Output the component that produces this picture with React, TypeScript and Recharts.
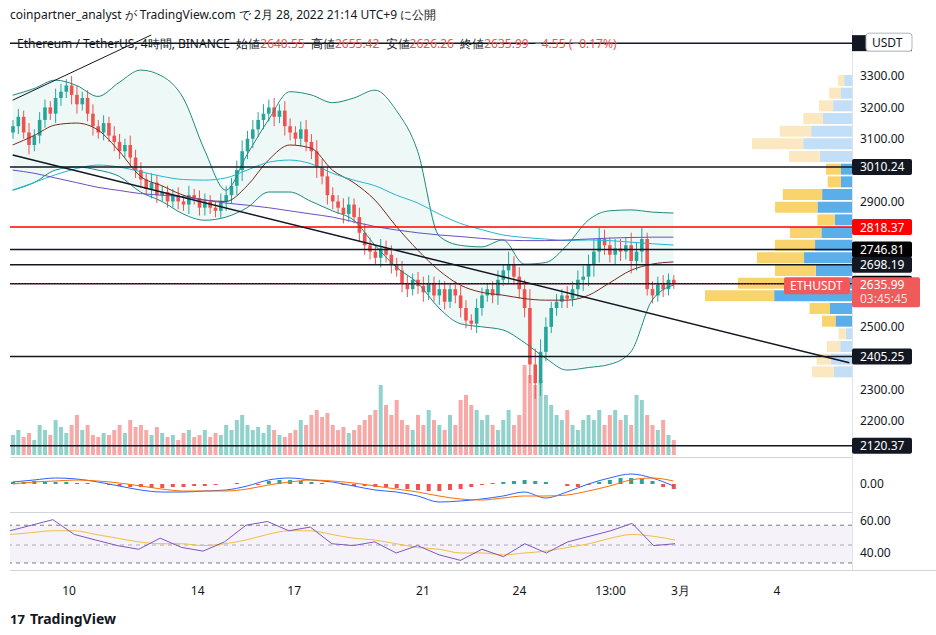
import React from "react";
import { ComposedChart, BarChart, Bar, Line, Area, XAxis, YAxis, ReferenceLine, ReferenceArea, Cell } from "recharts";

const closes = [
  3140,3170,3120,3080,3110,3160, 3200,3180,3230,3250,3270,3240, 3210,3230,3180,3140,3120,3150,
  3110,3090,3060,3080,3040,3000, 2970,2940,2960,2920,2930,2900, 2920,2900,2890,2920,2910,2880,
  2900,2880,2870,2900,2920,2950, 3000,3060,3100,3130,3160,3180, 3200,3170,3190,3140,3120,3100,
  3130,3090,3060,3010,2980,2920, 2900,2880,2860,2890,2850,2800, 2760,2740,2720,2750,2730,2700,
  2680,2640,2620,2650,2630,2610, 2640,2600,2620,2580,2620,2600, 2560,2520,2510,2560,2600,2620,
  2600,2650,2680,2700,2660,2620, 2560,2380,2320,2420,2500,2560, 2580,2600,2590,2620,2650,2660,
  2700,2740,2780,2760,2730,2750, 2740,2760,2710,2740,2780,2620, 2600,2640,2620,2650,2636,
];
const wicks = [
  20,25,20,30,20,25, 25,20,30,25,20,30, 30,20,25,30,20,25, 20,30,25,20,30,25, 25,20,30,25,20,20,
  20,25,20,30,20,25, 25,20,20,25,30,25, 30,35,25,30,25,30, 25,30,20,30,25,20, 25,30,25,35,25,30,
  25,20,30,25,20,30, 30,25,20,30,25,30, 20,30,25,20,25,30, 25,20,30,25,20,25, 30,25,20,30,25,20,
  25,30,20,40,25,30, 30,60,50,40,30,20, 25,20,30,25,30,35, 30,40,35,30,25,30, 30,25,40,30,35,20,
  25,20,25,20,15,
];
const volumes = [
  20,25,18,22,15,30, 25,20,35,28,22,30, 40,25,30,20,18,22, 20,25,30,22,35,28, 30,25,20,28,22,18,
  20,15,22,25,18,20, 25,18,22,20,30,25, 35,40,30,25,28,22, 30,25,20,18,22,25, 35,30,40,45,38,42,
  30,25,28,22,25,30, 35,40,45,70,50,40, 55,35,30,25,40,30, 45,35,30,25,40,30, 55,60,50,45,35,40,
  30,25,35,45,30,40, 90,80,70,75,60,50, 40,35,45,30,25,35, 40,35,45,30,40,45, 35,40,30,60,55,40,
  30,25,35,20,15,
];
// every 4th candle
const bbUpper = [3239,3260,3287,3270,3235,3280,3319,3300,3230,3064,2936,3050,3160,3250,3240,3215,3230,3255,3190,3060,2790,2760,2755,2777,2700,2705,2760,2840,2870,2873,2866,2863];
const bbLower = [2936,2960,3000,3010,3000,2980,2930,2900,2860,2840,2850,2880,2930,2930,2900,2870,2840,2760,2690,2640,2560,2510,2500,2490,2450,2400,2362,2370,2380,2420,2585,2633];
const bbMid = [3080,3110,3144,3150,3128,3060,2980,2950,2920,2904,2900,2950,3032,3080,3070,3000,2960,2904,2820,2745,2680,2633,2610,2601,2590,2585,2585,2600,2640,2680,2700,2707];
const maCyan = [2936,2960,2985,3005,3016,3010,2995,2980,2970,2968,2975,3000,3025,3032,3020,2990,2968,2950,2920,2895,2860,2830,2810,2793,2785,2780,2775,2777,2775,2770,2765,2761];
const maPurple = [3000,2990,2975,2960,2945,2935,2925,2920,2915,2905,2895,2888,2880,2870,2860,2850,2835,2820,2809,2800,2793,2788,2782,2777,2775,2775,2777,2780,2783,2785,2786,2786];
const macdLine = [2,4,6,5,2,-2,-6,-8,-8,-7,-6,-2,4,6,4,2,-2,-6,-8,-12,-18,-17,-15,-12,-8,-14,-8,0,6,10,6,-2];
const signalLine = [0,2,3,4,3,1,-2,-5,-7,-7,-7,-5,-1,2,4,3,1,-2,-5,-8,-12,-15,-16,-14,-12,-12,-11,-7,-2,4,6,3];
const rsiLine = [52,55,58,50,47,44,42,48,43,41,46,55,57,52,54,45,44,46,40,44,39,36,42,38,45,40,46,49,52,56,44,45];
const rsiMa = [50,51,52,52,50,48,46,45,45,44,45,47,50,52,52,50,48,47,45,43,42,40,40,39,40,41,43,45,48,50,49,47];
// every 2nd candle
const macdHist = [2,2,3,2,2,2,1,1,0,-1,-2,-3,-3,-4,-4,-3,-3,-2,-2,-1,0,1,0,-1,3,4,4,3,2,1,0,-1,-2,-2,-3,-3,-4,-5,-6,-7,-7,-6,-5,-3,-1,1,2,3,4,3,2,0,-2,-3,-1,2,4,6,6,5,3,-3,-5];

// volume profile rows, top to bottom
const profPrice = [3287,3249,3207,3166,3128,3086,3045,3003,2965,2924,2882,2844,2802,2761,2723,2681,2640,2601,2560,2518,2477,2439,2397,2356];
const profBlue = [10,14,24,37,52,62,41,14,14,38,44,22,39,47,61,46,70,99,28,21,8,15,27,23];
const profYellow = [8,15,18,25,40,65,39,19,17,50,54,22,40,51,60,52,75,88,26,17,9,17,18,28];
const profLight = [1,1,1,1,1,1,1,0,0,0,0,0,0,0,0,0,0,0,0,0,1,1,1,1];

const xTickIdx = [11,35,53,77,95,112,125,143];
const xTickLabels = ["10","14","17","21","24","13:00","3月","4"];
const priceTicks = [2200,2300,2500,2900,3100,3200,3300];

const N = closes.length;
const TOTAL = 158;
const rows = Array.from({ length: TOTAL }, (_, i) => {
  const r: any = { i };
  if (i < N) {
    const o = i === 0 ? 3120 : closes[i - 1];
    const c = closes[i];
    r.o = o; r.c = c;
    r.hl = [Math.min(o, c) - wicks[i], Math.max(o, c) + wicks[i]];
    r.vol = volumes[i];
  }
  if (i % 4 === 0 && i / 4 < bbUpper.length) {
    const k = i / 4;
    r.up = bbUpper[k]; r.lo = bbLower[k]; r.band = [bbLower[k], bbUpper[k]]; r.mid = bbMid[k];
    r.cyan = maCyan[k]; r.purple = maPurple[k]; r.macd = macdLine[k]; r.sig = signalLine[k];
    r.rsi = rsiLine[k]; r.rsiMa = rsiMa[k];
  }
  if (i % 2 === 0 && i / 2 < macdHist.length) r.hist = macdHist[i / 2];
  return r;
});
const profRows = profPrice.map((p, k) => ({ p: String(p), b: profBlue[k], y: profYellow[k], light: profLight[k] }));

const UP = "#26a69a", DN = "#ef5350";
const FONT = "'Noto Sans', sans-serif";
const tickStyle = { fill: "#131722", fontSize: 12, fontFamily: FONT };

const Candle = (p: any) => {
  const { x, y, width, height, payload } = p;
  if (!payload || payload.o == null) return null;
  const [l, h] = payload.hl;
  const top = Math.min(y, y + height), hh = Math.abs(height) || 1;
  const sc = (v: number) => top + ((h - v) / (h - l)) * hh;
  const col = payload.c >= payload.o ? UP : DN;
  const cx = x + width / 2;
  const b1 = sc(Math.max(payload.o, payload.c)), b2 = sc(Math.min(payload.o, payload.c));
  return (
    <g>
      <line x1={cx} x2={cx} y1={top} y2={top + hh} stroke={col} strokeWidth={1} />
      <rect x={cx - 1.8} y={b1} width={3.6} height={Math.max(1, b2 - b1)} fill={col} />
    </g>
  );
};

const boxLabel = (text: string, bg: string, fg = "#fff") => (props: any) => {
  const y = props.viewBox.y;
  return (
    <g>
      <rect x={852} y={y - 8} width={60} height={16} rx={2} fill={bg} />
      <text x={860} y={y + 4.5} fill={fg} fontSize={12} fontFamily={FONT}>{text}</text>
    </g>
  );
};
const lastLabel = (props: any) => {
  const y = props.viewBox.y;
  return (
    <g>
      <rect x={784} y={y - 7} width={66} height={17} rx={2} fill="#f05a5a" />
      <text x={790} y={y + 6} fill="#fff" fontSize={12} fontFamily={FONT}>ETHUSDT</text>
      <rect x={852} y={y - 7} width={68} height={30} rx={2} fill="#f05a5a" />
      <text x={860} y={y + 5} fill="#fff" fontSize={12} fontFamily={FONT}>2635.99</text>
      <text x={860} y={y + 19} fill="#ffdede" fontSize={12} fontFamily={FONT}>03:45:45</text>
    </g>
  );
};

const hLines: [number, string, string][] = [
  [3010.24, "3010.24", "#131722"],
  [2746.81, "2746.81", "#000"],
  [2698.19, "2698.19", "#131722"],
  [2637.36, "2637.36", "#000"],
  [2405.25, "2405.25", "#131722"],
  [2120.37, "2120.37", "#131722"],
];

const M = { top: 35, right: 0, left: 10, bottom: 2 };

export default function App() {
  return (
    <div style={{ position: "absolute", left: 0, top: 0, width: 936, height: 635, background: "#fff", fontFamily: FONT, overflow: "hidden" }}>
      <div style={{ position: "absolute", left: 10, top: 6, fontSize: 12, color: "#131722" }}>
        coinpartner_analyst が TradingView.com で 2月 28, 2022 21:14 UTC+9 に公開
      </div>
      <div style={{ position: "absolute", left: 852, top: 30, width: 1, height: 540, background: "#e0e3eb" }} />
      <div style={{ position: "absolute", left: 10, top: 457, width: 842, height: 1, background: "#d1d4dc" }} />
      <div style={{ position: "absolute", left: 10, top: 512, width: 842, height: 1, background: "#d1d4dc" }} />
      <div style={{ position: "absolute", left: 10, top: 570, width: 926, height: 1, background: "#d1d4dc" }} />

      {/* volume */}
      <div style={{ position: "absolute", left: 0, top: 0 }}>
        <ComposedChart width={936} height={457} data={rows} margin={{ ...M, right: 84 }}>
          <XAxis dataKey="i" hide />
          <YAxis hide domain={[0, 420]} />
          <Bar dataKey="vol" barSize={4} isAnimationActive={false}>
            {rows.map((r, k) => (
              <Cell key={k} fill={r.c >= r.o ? "rgba(38,166,154,0.5)" : "rgba(239,83,80,0.5)"} />
            ))}
          </Bar>
        </ComposedChart>
      </div>

      {/* volume profile */}
      <div style={{ position: "absolute", left: 705, top: 0 }}>
        <BarChart width={147} height={378} data={profRows} layout="vertical" margin={{ top: 74, bottom: 0, left: 0, right: 0 }} barCategoryGap={1}>
          <XAxis type="number" hide reversed domain={[0, 147]} />
          <YAxis type="category" dataKey="p" hide />
          <Bar dataKey="b" stackId="s" isAnimationActive={false}>
            {profRows.map((r, k) => <Cell key={k} fill={r.light ? "#c3def7" : "#5aaeea"} />)}
          </Bar>
          <Bar dataKey="y" stackId="s" isAnimationActive={false}>
            {profRows.map((r, k) => <Cell key={k} fill={r.light ? "#fbe8c0" : "#f9d36c"} />)}
          </Bar>
        </BarChart>
      </div>

      {/* price */}
      <div style={{ position: "absolute", left: 0, top: 0 }}>
        <ComposedChart width={936} height={457} data={rows} margin={M}>
          <XAxis dataKey="i" hide />
          <YAxis orientation="right" width={84} domain={[2091, 3431]} ticks={priceTicks} tick={tickStyle}
            axisLine={false} tickLine={false} tickFormatter={(v: number) => v.toFixed(2)} />
          <Area dataKey="band" fill="#26a69a" fillOpacity={0.08} stroke="none" connectNulls isAnimationActive={false} />
          <Line dataKey="up" stroke="#1d8a80" strokeWidth={1} dot={false} connectNulls type="monotone" isAnimationActive={false} />
          <Line dataKey="lo" stroke="#1d8a80" strokeWidth={1} dot={false} connectNulls type="monotone" isAnimationActive={false} />
          <Line dataKey="mid" stroke="#7b2a1e" strokeWidth={1} dot={false} connectNulls type="monotone" isAnimationActive={false} />
          <Line dataKey="cyan" stroke="#22b7d0" strokeWidth={1} dot={false} connectNulls type="monotone" isAnimationActive={false} />
          <Line dataKey="purple" stroke="#6a4fc4" strokeWidth={1} dot={false} connectNulls type="monotone" isAnimationActive={false} />
          <Bar dataKey="hl" barSize={4} shape={Candle} isAnimationActive={false} />
          <ReferenceLine y={3405} stroke="#131722" strokeWidth={1.5} ifOverflow="visible"
            label={(p: any) => (
              <g>
                <rect x={852} y={p.viewBox.y - 8} width={60} height={16} fill="#131722" />
                <rect x={866} y={p.viewBox.y - 10} width={46} height={18} rx={3} fill="#fff" stroke="#b2b5be" />
                <text x={872} y={p.viewBox.y + 4} fontSize={12} fill="#131722" fontFamily={FONT}>USDT</text>
              </g>
            )} />
          {hLines.map(([v, t, c]) => (
            <ReferenceLine key={t} y={v} stroke="#131722" strokeWidth={1.5} label={boxLabel(t, c)} />
          ))}
          <ReferenceLine y={2818.37} stroke="#ff0000" strokeWidth={1.5} label={boxLabel("2818.37", "#ff0000")} />
          <ReferenceLine y={2635.99} stroke="#ef5350" strokeDasharray="1 2" label={lastLabel} />
          <ReferenceLine segment={[{ x: 0, y: 3048 }, { x: 157, y: 2385 }]} stroke="#131722" strokeWidth={1.5} ifOverflow="visible" />
          <ReferenceLine segment={[{ x: 0, y: 3223 }, { x: 26, y: 3431 }]} stroke="#131722" strokeWidth={1} ifOverflow="visible" />
        </ComposedChart>
      </div>

      <div style={{ position: "absolute", left: 17, top: 35, fontSize: 12, color: "#131722", whiteSpace: "nowrap" }}>
        Ethereum / TetherUS, 4時間, BINANCE&nbsp; 始値<span style={{ color: DN }}>2640.55</span>&nbsp; 高値<span style={{ color: DN }}>2655.42</span>&nbsp; 安値<span style={{ color: DN }}>2626.26</span>&nbsp; 終値<span style={{ color: DN }}>2635.99&nbsp; −4.55 (−0.17%)</span>
      </div>

      {/* MACD */}
      <div style={{ position: "absolute", left: 0, top: 458 }}>
        <ComposedChart width={936} height={54} data={rows} margin={{ top: 0, right: 0, left: 10, bottom: 0 }}>
          <XAxis dataKey="i" hide />
          <YAxis orientation="right" width={84} domain={[-28, 26]} ticks={[0]} tick={tickStyle} axisLine={false} tickLine={false}
            tickFormatter={(v: number) => v.toFixed(2)} />
          <Bar dataKey="hist" barSize={4} isAnimationActive={false}>
            {rows.map((r, k) => (
              <Cell key={k} fill={(r.hist ?? 0) >= 0 ? "#26a69a" : "#ef5350"} />
            ))}
          </Bar>
          <Line dataKey="macd" stroke="#2962ff" strokeWidth={1} dot={false} connectNulls type="monotone" isAnimationActive={false} />
          <Line dataKey="sig" stroke="#ff6d00" strokeWidth={1} dot={false} connectNulls type="monotone" isAnimationActive={false} />
        </ComposedChart>
      </div>

      {/* RSI */}
      <div style={{ position: "absolute", left: 0, top: 513 }}>
        <ComposedChart width={936} height={92} data={rows} margin={{ top: 0, right: 0, left: 10, bottom: 0 }}>
          <XAxis dataKey="i" ticks={xTickIdx} interval={0} height={35} axisLine={false} tickLine={false}
            tick={{ ...tickStyle, dy: 8 }} tickFormatter={(v: number) => xTickLabels[xTickIdx.indexOf(v)]} />
          <YAxis orientation="right" width={84} domain={[30.8, 61.6]} ticks={[40, 60]} tick={tickStyle} axisLine={false} tickLine={false}
            tickFormatter={(v: number) => v.toFixed(2)} />
          <ReferenceArea y1={34.6} y2={55} fill="#7e57c2" fillOpacity={0.08} stroke="none" />
          <ReferenceLine y={55} stroke="#787b86" strokeDasharray="4 4" />
          <ReferenceLine y={44.3} stroke="#787b86" strokeDasharray="4 4" strokeOpacity={0.6} />
          <ReferenceLine y={34.6} stroke="#787b86" strokeDasharray="4 4" />
          <Line dataKey="rsiMa" stroke="#f0c040" strokeWidth={1} dot={false} connectNulls type="monotone" isAnimationActive={false} />
          <Line dataKey="rsi" stroke="#7e57c2" strokeWidth={1} dot={false} connectNulls isAnimationActive={false} />
        </ComposedChart>
      </div>

      <div style={{ position: "absolute", left: 10, top: 609, fontSize: 14, fontWeight: 700, color: "#131722" }}>
        <span style={{ fontSize: 13, marginRight: 5 }}>17</span>TradingView
      </div>
    </div>
  );
}
